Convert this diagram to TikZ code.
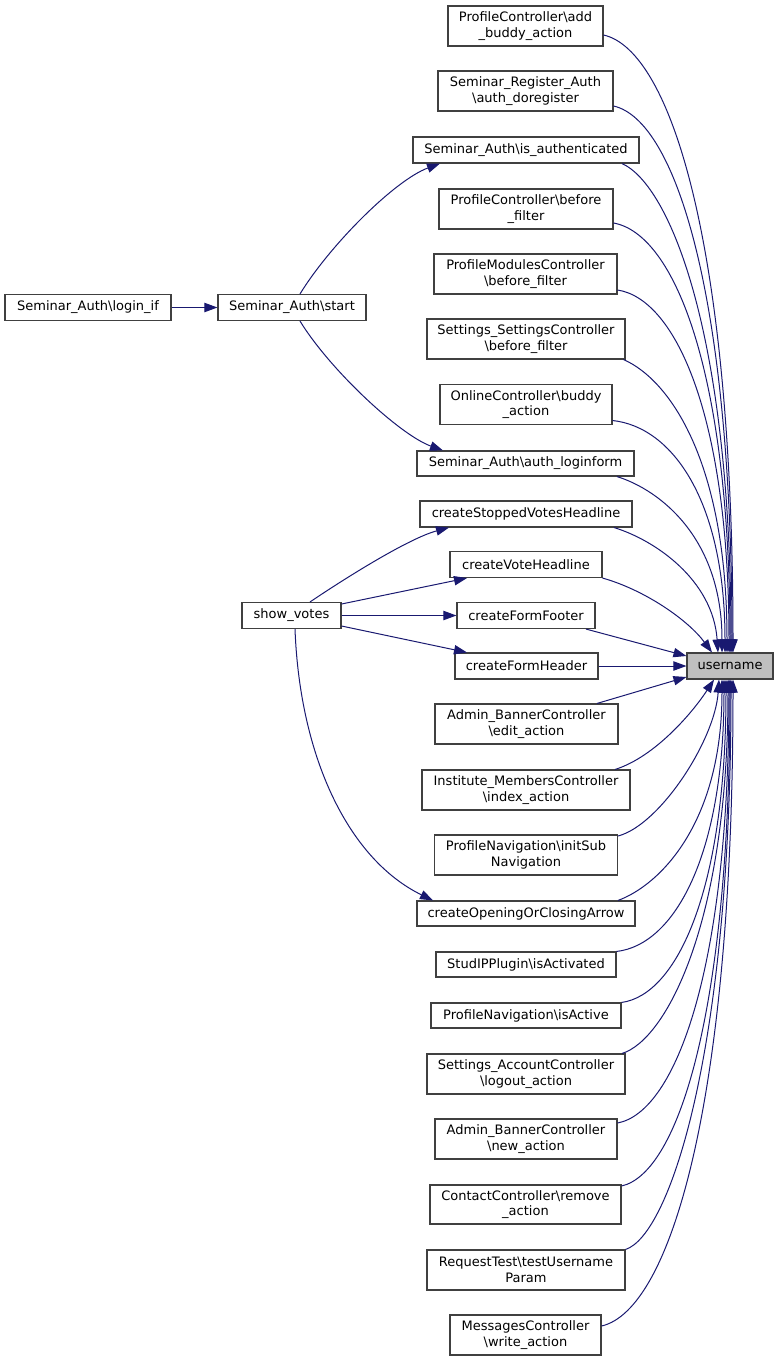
\documentclass[tikz,border=0pt]{standalone}
\usepackage{fontspec}
\setmainfont{DejaVu Sans}
\usetikzlibrary{arrows.meta}
\definecolor{edgeblue}{HTML}{191970}
\definecolor{boxborder}{HTML}{404040}
\definecolor{hlfill}{HTML}{BFBFBF}
\begin{document}
\begin{tikzpicture}[x=1pt,y=-1pt,
  fn/.style={draw=boxborder, line width=1.1pt, fill=white, inner sep=0pt, align=center,
    font=\fontsize{13pt}{15.5pt}\selectfont, text=black},
  cur/.style={fn, fill=hlfill},
  edge/.style={draw=edgeblue, line width=1pt, -{Triangle[length=13pt,width=9.3pt]}}]
\useasboundingbox (0,0) rectangle (779,1361);
% right column
\node[fn, minimum width=155pt, minimum height=40pt] (addbuddy) at (525.5,26) {ProfileController\textbackslash add\\\_buddy\_action};
\node[fn, minimum width=175pt, minimum height=40pt] (doreg) at (525.5,91) {Seminar\_Register\_Auth\\\textbackslash auth\_doregister};
\node[fn, minimum width=226pt, minimum height=26pt] (isauth) at (526,150) {Seminar\_Auth\textbackslash is\_authenticated};
\node[fn, minimum width=174pt, minimum height=40pt] (pcbf) at (526,209) {ProfileController\textbackslash before\\\_filter};
\node[fn, minimum width=183pt, minimum height=40pt] (pmcbf) at (525.5,274) {ProfileModulesController\\\textbackslash before\_filter};
\node[fn, minimum width=198pt, minimum height=40pt] (sscbf) at (526,339) {Settings\_SettingsController\\\textbackslash before\_filter};
\node[fn, minimum width=172pt, minimum height=40pt] (online) at (526,404.5) {OnlineController\textbackslash buddy\\\_action};
\node[fn, minimum width=217pt, minimum height=25pt] (loginform) at (525.5,463.5) {Seminar\_Auth\textbackslash auth\_loginform};
\node[fn, minimum width=212pt, minimum height=26pt] (stopped) at (526,514) {createStoppedVotesHeadline};
\node[fn, minimum width=152pt, minimum height=26pt] (votehead) at (526,564.5) {createVoteHeadline};
\node[fn, minimum width=138pt, minimum height=26pt] (footer) at (526,615.5) {createFormFooter};
\node[fn, minimum width=143pt, minimum height=26pt] (header) at (526.5,666) {createFormHeader};
\node[fn, minimum width=183pt, minimum height=40pt] (editaction) at (526.5,724) {Admin\_BannerController\\\textbackslash edit\_action};
\node[fn, minimum width=208pt, minimum height=40pt] (index) at (526,790) {Institute\_MembersController\\\textbackslash index\_action};
\node[fn, minimum width=183pt, minimum height=40pt] (initsub) at (526,855) {ProfileNavigation\textbackslash initSub\\Navigation};
\node[fn, minimum width=218pt, minimum height=25pt] (arrow) at (526,913.5) {createOpeningOrClosingArrow};
\node[fn, minimum width=180pt, minimum height=25pt] (isactivated) at (526,964.5) {StudIPPlugin\textbackslash isActivated};
\node[fn, minimum width=190pt, minimum height=25pt] (isactive) at (526,1015.5) {ProfileNavigation\textbackslash isActive};
\node[fn, minimum width=198pt, minimum height=40pt] (logout) at (526,1074) {Settings\_AccountController\\\textbackslash logout\_action};
\node[fn, minimum width=182pt, minimum height=40pt] (newaction) at (526,1139) {Admin\_BannerController\\\textbackslash new\_action};
\node[fn, minimum width=191pt, minimum height=39pt] (remove) at (525.5,1204.5) {ContactController\textbackslash remove\\\_action};
\node[fn, minimum width=198pt, minimum height=40pt] (reqtest) at (526,1270) {RequestTest\textbackslash testUsername\\Param};
\node[fn, minimum width=151pt, minimum height=40pt] (write) at (525.5,1335) {MessagesController\\\textbackslash write\_action};
% target
\node[cur, minimum width=86pt, minimum height=26pt] (username) at (730,666) {username};
% left side
\node[fn, minimum width=166pt, minimum height=26pt] (loginif) at (88,307.5) {Seminar\_Auth\textbackslash login\_if};
\node[fn, minimum width=148pt, minimum height=26pt] (start) at (292,307.5) {Seminar\_Auth\textbackslash start};
\node[fn, minimum width=99pt, minimum height=26pt] (showvotes) at (291.5,615.5) {show\_votes};
% edges to username (upper)
\draw[edge] ([yshift=-9pt]addbuddy.east) .. controls (672,50.5) and (733,251) .. ([xshift=3pt]username.north);
\draw[edge] ([yshift=-15pt]doreg.east) .. controls (676,120) and (732,297.5) .. ([xshift=2pt]username.north);
\draw[edge] ([xshift=96pt]isauth.south) .. controls (670,185) and (731,334.5) .. ([xshift=1pt]username.north);
\draw[edge] ([yshift=-14pt]pcbf.east) .. controls (675,234) and (730,373.5) .. (username.north);
\draw[edge] ([yshift=-16pt]pmcbf.east) .. controls (676,299) and (729,417) .. ([xshift=-1pt]username.north);
\draw[edge] ([xshift=-2pt]sscbf.south east) .. controls (670,380) and (727,462) .. ([xshift=-3pt]username.north);
\draw[edge] ([yshift=-16pt]online.east) .. controls (673,427) and (725,502) .. ([xshift=-5pt]username.north);
\draw[edge] ([xshift=91.5pt]loginform.south) .. controls (660,490) and (722,538) .. ([xshift=-8pt]username.north);
\draw[edge] ([xshift=88pt]stopped.south) .. controls (655,540) and (713,580) .. ([xshift=-12pt]username.north);
\draw[edge] (votehead.south east) .. controls (645,590) and (688,620) .. ([xshift=-18pt]username.north);
\draw[edge] ([xshift=60pt]footer.south) -- ([yshift=10pt]username.west);
\draw[edge] (header.east) -- (username.west);
\draw[edge] ([xshift=70.5pt]editaction.north) -- ([yshift=-11pt]username.west);
% edges to username (lower)
\draw[edge] ([xshift=89pt]index.north) .. controls (655,757) and (693,712) .. ([xshift=-16pt]username.south);
\draw[edge] ([yshift=19pt]initsub.east) .. controls (660,825) and (715,740) .. ([xshift=-11pt]username.south);
\draw[edge] ([xshift=92pt]arrow.north) .. controls (660,885) and (722,823) .. ([xshift=-8pt]username.south);
\draw[edge] (isactivated.north east) .. controls (674,945) and (724,856.5) .. ([xshift=-6pt]username.south);
\draw[edge] (isactive.north east) .. controls (677,995) and (726,890) .. ([xshift=-4pt]username.south);
\draw[edge] ([xshift=96pt]logout.north) .. controls (666,1040) and (728,923) .. ([xshift=-2pt]username.south);
\draw[edge] ([yshift=16pt]newaction.east) .. controls (676,1112) and (729,968) .. ([xshift=-1pt]username.south);
\draw[edge] ([yshift=18.5pt]remove.east) .. controls (679,1173) and (730,1009) .. (username.south);
\draw[edge] (reqtest.north east) .. controls (670,1235) and (731,1050) .. ([xshift=1pt]username.south);
\draw[edge] ([yshift=9pt]write.east) .. controls (671,1310) and (733,1100) .. ([xshift=3pt]username.south);
% left edges
\draw[edge] (loginif.east) -- (start.west);
\draw[edge] ([xshift=8pt]start.north) .. controls (330,245) and (395,180) .. ([xshift=-86pt]isauth.south);
\draw[edge] ([xshift=8pt]start.south) .. controls (330,370) and (400,435) .. ([xshift=-82.5pt]loginform.north);
\draw[edge] ([xshift=18.5pt]showvotes.north) .. controls (350,575) and (410,538) .. ([xshift=-77pt]stopped.south);
\draw[edge] ([yshift=11.5pt]showvotes.east) -- ([xshift=-59pt]votehead.south);
\draw[edge] (showvotes.east) -- (footer.west);
\draw[edge] ([yshift=-10.5pt]showvotes.east) -- ([xshift=-59.5pt]header.north);
\draw[edge] ([xshift=3.5pt]showvotes.south) .. controls (300,760) and (350,860) .. ([xshift=-93pt]arrow.north);
\end{tikzpicture}
\end{document}
